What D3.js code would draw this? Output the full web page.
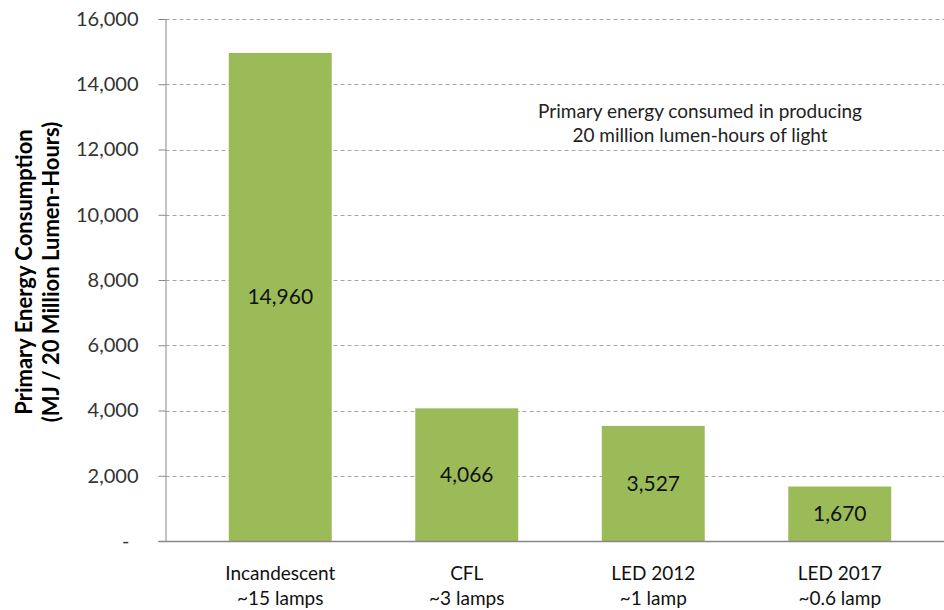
<!DOCTYPE html>
<html><head><meta charset="utf-8">
<script src="https://cdn.jsdelivr.net/npm/d3@7"></script>
<style>
body{margin:0;background:#fff;}
svg{display:block;font-family:Lato,"Open Sans",sans-serif;}
</style></head>
<body><svg id="c" width="944" height="610"></svg>
<script>
const categories = ["Incandescent", "CFL", "LED 2012", "LED 2017"];
const subLabels = ["~15 lamps", "~3 lamps", "~1 lamp", "~0.6 lamp"];
const values = [14960, 4066, 3527, 1670];
const yTicks = [0, 2000, 4000, 6000, 8000, 10000, 12000, 14000, 16000];
const annotation = ["Primary energy consumed in producing", "20 million lumen-hours of light"];
const yTitle = ["Primary Energy Consumption", "(MJ / 20 Million Lumen-Hours)"];

(function () {
const svg = d3.select("#c");
const axisX = 165.5, plotRight = 944, plotTop = 19, plotBottom = 541;
const y = d3.scaleLinear().domain([0, 16000]).range([plotBottom, plotTop]);
const x = d3.scaleBand().domain(categories).range([187, 933]).paddingInner(0.448).paddingOuter(0.224);

// gridlines
svg.append("g").selectAll("line").data(yTicks.filter(d => d > 0)).join("line")
  .attr("x1", axisX).attr("x2", plotRight)
  .attr("y1", d => Math.round(y(d)) + 0.5).attr("y2", d => Math.round(y(d)) + 0.5)
  .attr("stroke", "#a6a6a6").attr("stroke-width", 1).attr("stroke-dasharray", "4,3");

// bars
svg.append("g").selectAll("rect").data(values).join("rect")
  .attr("x", (d, i) => x(categories[i])).attr("width", x.bandwidth())
  .attr("y", d => y(d)).attr("height", d => plotBottom - y(d))
  .attr("fill", "#9bbb59");

// y axis
const yAxis = d3.axisLeft(y).tickValues(yTicks).tickSize(7).tickPadding(20)
  .tickFormat(d => d === 0 ? "-" : d3.format(",")(d));
const ga = svg.append("g").attr("transform", `translate(${axisX},0)`).call(yAxis);
ga.select(".domain").attr("stroke", "#888");
ga.selectAll(".tick line").attr("stroke", "#888");
ga.selectAll(".tick text").attr("fill", "#333").attr("font-size", 20).attr("font-family", "Lato, sans-serif");
ga.selectAll(".tick text").filter(d => d === 0).attr("dx", -9);

// x axis line
svg.append("line").attr("x1", axisX - 7).attr("x2", plotRight).attr("y1", plotBottom + 0.5).attr("y2", plotBottom + 0.5)
  .attr("stroke", "#888").attr("stroke-width", 1.5);

// value labels
svg.append("g").selectAll("text").data(values).join("text")
  .attr("x", (d, i) => x(categories[i]) + x.bandwidth() / 2)
  .attr("y", d => (y(d) + plotBottom) / 2)
  .attr("dy", "0.35em").attr("text-anchor", "middle")
  .attr("font-size", 21).attr("fill", "#111")
  .text(d => d3.format(",")(d));

// x labels
const xl = svg.append("g").selectAll("text").data(categories).join("text")
  .attr("text-anchor", "middle").attr("font-size", 19).attr("fill", "#111")
  .attr("x", d => x(d) + x.bandwidth() / 2).attr("y", 580);
xl.append("tspan").text(d => d);
xl.append("tspan").attr("x", d => x(d) + x.bandwidth() / 2).attr("dy", 25).text((d, i) => subLabels[i]);

// annotation
svg.append("g").selectAll("text").data(annotation).join("text")
  .attr("x", 700).attr("y", (d, i) => 118 + i * 24)
  .attr("text-anchor", "middle").attr("font-size", 19).attr("fill", "#222")
  .text(d => d);

// y title
svg.append("g").selectAll("text").data(yTitle).join("text")
  .attr("transform", (d, i) => `translate(${32 + i * 27},272) rotate(-90)`)
  .attr("text-anchor", "middle").attr("font-size", 22).attr("font-weight", "bold").attr("fill", "#000")
  .text(d => d);
})();
</script></body></html>
